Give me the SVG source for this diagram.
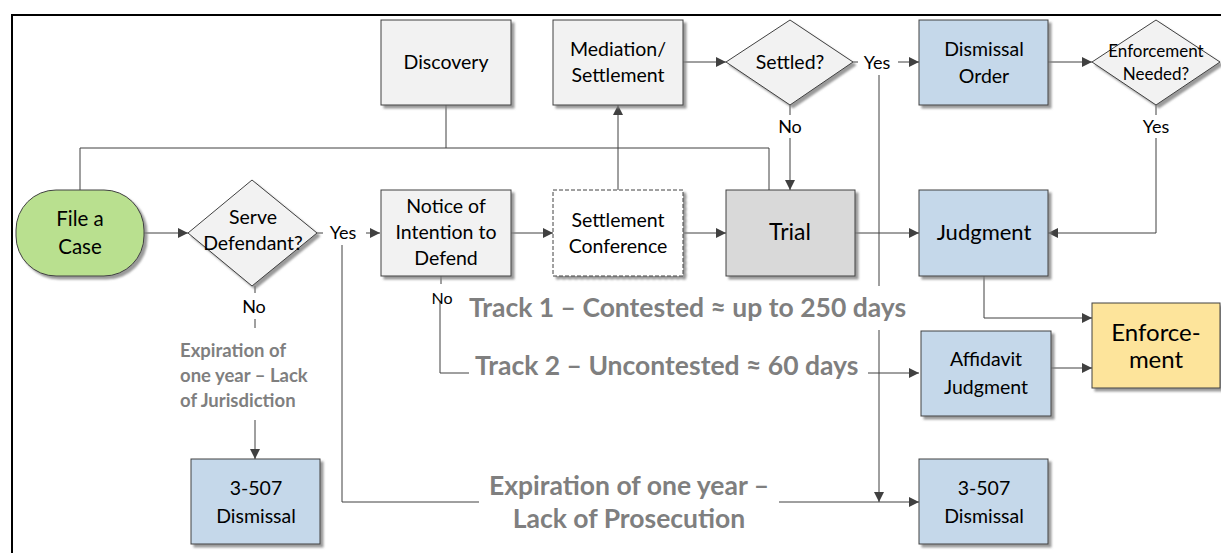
<svg xmlns="http://www.w3.org/2000/svg" width="1221" height="553" viewBox="0 0 1221 553">
<defs>
<style>
.n{stroke:#404040;stroke-width:1}
.g{fill:#f2f2f2}
.b{fill:#c5d8ea}
.t{font-family:Lato,"Liberation Sans",sans-serif;font-size:19.5px;fill:#000;text-anchor:middle}
.l{font-family:Lato,"Liberation Sans",sans-serif;font-size:18px;fill:#000;text-anchor:middle}
.big{font-family:Lato,"Liberation Sans",sans-serif;font-weight:bold;font-size:26.5px;fill:#7f7f7f}
.sm{font-family:Lato,"Liberation Sans",sans-serif;font-weight:bold;font-size:18.5px;fill:#7f7f7f}
.c{fill:none;stroke:#404040;stroke-width:1}
</style>
<marker id="a" viewBox="0 0 10 10" refX="10" refY="5" markerWidth="10" markerHeight="10" markerUnits="userSpaceOnUse" orient="auto">
<path d="M0,0L10,5L0,10Z" fill="#404040"/>
</marker>
<filter id="s" x="-10%" y="-10%" width="130%" height="130%">
<feDropShadow dx="3" dy="3" stdDeviation="0.8" flood-color="#808080" flood-opacity="0.8"/>
</filter>
</defs>
<rect width="1221" height="553" fill="#fff"/>
<path d="M12,553V15H1221" fill="none" stroke="#000" stroke-width="2"/>

<g id="connectors">
<path class="c" d="M144,233H188" marker-end="url(#a)"/>
<path class="c" d="M317,233H323"/>
<path class="c" d="M366,233H380" marker-end="url(#a)"/>
<path class="c" d="M511,233H553" marker-end="url(#a)"/>
<path class="c" d="M683,233H726" marker-end="url(#a)"/>
<path class="c" d="M618,190V105" marker-end="url(#a)"/>
<path class="c" d="M683,62H726" marker-end="url(#a)"/>
<path class="c" d="M853,62H858"/>
<path class="c" d="M898,62H919" marker-end="url(#a)"/>
<path class="c" d="M1048,62H1092" marker-end="url(#a)"/>
<path class="c" d="M1156,105V115"/>
<path class="c" d="M1156,138V233H1048" marker-end="url(#a)"/>
<path class="c" d="M790,105V115"/>
<path class="c" d="M790,138V190" marker-end="url(#a)"/>
<path class="c" d="M80,190V148H769V190"/>
<path class="c" d="M446,105V148"/>
<path class="c" d="M855,233H919" marker-end="url(#a)"/>
<path class="c" d="M984,276V318H1092" marker-end="url(#a)"/>
<path class="c" d="M1051,368H1092" marker-end="url(#a)"/>
<path class="c" d="M879,75V286"/>
<path class="c" d="M879,330V502" marker-end="url(#a)"/>
<path class="c" d="M342,245V502H479"/>
<path class="c" d="M779,502H919" marker-end="url(#a)"/>
<path class="c" d="M441,276V284"/>
<path class="c" d="M440,302V373H469"/>
<path class="c" d="M868,373H919" marker-end="url(#a)"/>
<path class="c" d="M255,286V293"/>
<path class="c" d="M255,319V328"/>
<path class="c" d="M255,420V459" marker-end="url(#a)"/>
<text class="l" x="343" y="239">Yes</text>
<text class="l" x="877" y="69">Yes</text>
<text class="l" x="790" y="133">No</text>
<text class="l" x="1156" y="133">Yes</text>
<text class="l" x="254" y="313">No</text>
<text class="l" x="442" y="304" style="font-size:16px">No</text>
<text class="big" x="469" y="317">Track 1 – Contested ≈ up to 250 days</text>
<text class="big" x="475" y="375">Track 2 – Uncontested ≈ 60 days</text>
<text class="big" x="629" y="495" text-anchor="middle">Expiration of one year –</text>
<text class="big" x="629" y="528" text-anchor="middle">Lack of Prosecution</text>
<text class="sm" x="180" y="357">Expiration of</text>
<text class="sm" x="180" y="382">one year – Lack</text>
<text class="sm" x="180" y="407">of Jurisdiction</text>
</g>

<g id="file-case">
<rect x="16" y="190" width="128" height="86" rx="40" ry="40" fill="#b9e08f" class="n" filter="url(#s)"/>
<text class="t" x="80" y="226" style="font-size:20.5px">File a</text>
<text class="t" x="80" y="254" style="font-size:20.5px">Case</text>
</g>
<g id="serve-defendant">
<path d="M252,180L317,233L252,286L188,233Z" class="n g" filter="url(#s)"/>
<text class="t" x="253" y="224">Serve</text>
<text class="t" x="253" y="250">Defendant?</text>
</g>
<g id="notice">
<rect x="381" y="190" width="130" height="86" class="n g" filter="url(#s)"/>
<text class="t" x="446" y="213">Notice of</text>
<text class="t" x="446" y="239">Intention to</text>
<text class="t" x="446" y="265">Defend</text>
</g>
<g id="discovery">
<rect x="381" y="20" width="130" height="85" class="n g" filter="url(#s)"/>
<text class="t" x="446" y="69">Discovery</text>
</g>
<g id="mediation">
<rect x="553" y="20" width="130" height="85" class="n g" filter="url(#s)"/>
<text class="t" x="618" y="56">Mediation/</text>
<text class="t" x="618" y="82">Settlement</text>
</g>
<g id="settled">
<path d="M790,20L853,62L790,105L726,62Z" class="n g" filter="url(#s)"/>
<text class="t" x="790" y="69">Settled?</text>
</g>
<g id="dismissal-order">
<rect x="919" y="20" width="129" height="85" class="n b" filter="url(#s)"/>
<text class="t" x="984" y="56">Dismissal</text>
<text class="t" x="984" y="83">Order</text>
</g>
<g id="enforcement-needed">
<path d="M1156,20L1220,62L1156,105L1092,62Z" class="n g" filter="url(#s)"/>
<text class="t" x="1156" y="57" style="font-size:17px">Enforcement</text>
<text class="t" x="1156" y="80" style="font-size:17px">Needed?</text>
</g>
<g id="settlement-conference">
<rect x="553" y="190" width="130" height="86" fill="#fff" stroke="#404040" stroke-dasharray="4,2" filter="url(#s)"/>
<text class="t" x="618" y="227">Settlement</text>
<text class="t" x="618" y="253">Conference</text>
</g>
<g id="trial">
<rect x="726" y="190" width="129" height="86" fill="#d9d9d9" class="n" filter="url(#s)"/>
<text class="t" x="790" y="240" style="font-size:23px">Trial</text>
</g>
<g id="judgment">
<rect x="919" y="190" width="129" height="86" class="n b" filter="url(#s)"/>
<text class="t" x="984" y="240" style="font-size:22px">Judgment</text>
</g>
<g id="enforcement">
<rect x="1092" y="303" width="128" height="85" fill="#fde49b" class="n" filter="url(#s)"/>
<text class="t" x="1156" y="341" style="font-size:24px">Enforce-</text>
<text class="t" x="1156" y="368" style="font-size:24px">ment</text>
</g>
<g id="affidavit-judgment">
<rect x="921" y="331" width="130" height="85" class="n b" filter="url(#s)"/>
<text class="t" x="986" y="366">Affidavit</text>
<text class="t" x="986" y="394">Judgment</text>
</g>
<g id="dismissal-right">
<rect x="919" y="459" width="129" height="85" class="n b" filter="url(#s)"/>
<text class="t" x="984" y="495">3-507</text>
<text class="t" x="984" y="523">Dismissal</text>
</g>
<g id="dismissal-left">
<rect x="191" y="459" width="129" height="85" class="n b" filter="url(#s)"/>
<text class="t" x="256" y="495">3-507</text>
<text class="t" x="256" y="523">Dismissal</text>
</g>
</svg>
